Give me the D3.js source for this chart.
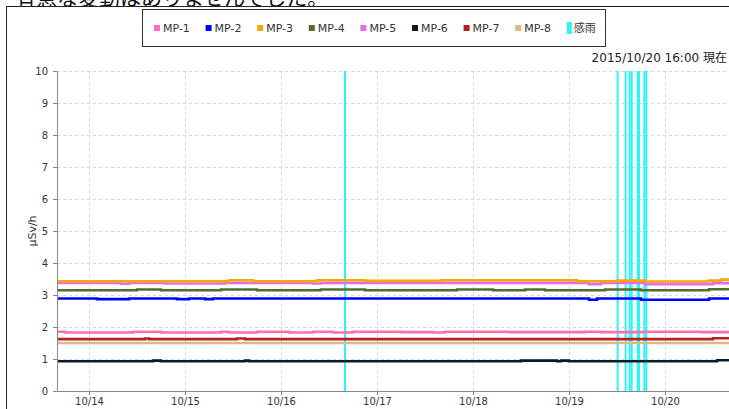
<!DOCTYPE html>
<html>
<head>
<meta charset="utf-8">
<script src="https://cdn.jsdelivr.net/npm/d3@7"></script>
<style>
  body { margin: 0; background: #fff; }
  svg { display: block; }
</style>
</head>
<body>
<div id="chart"></div>
<script>
// series as change points [time, value] (step data, uSv/h)
const mp1 = [["10/13 16:00",1.85],["10/13 18:00",1.83],["10/14 11:00",1.85],["10/14 18:00",1.83],["10/15 09:00",1.85],["10/15 11:00",1.83],["10/15 18:00",1.85],["10/16 02:00",1.83],["10/16 08:00",1.85],["10/16 13:00",1.83],["10/16 18:00",1.85],["10/17 06:00",1.84],["10/17 14:00",1.83],["10/17 17:00",1.85],["10/18 09:00",1.84],["10/19 04:00",1.85],["10/19 08:00",1.84],["10/19 19:00",1.85],["10/20 09:00",1.84],["10/20 16:00",1.84]];
const mp2 = [["10/13 16:00",2.89],["10/14 02:00",2.87],["10/14 10:00",2.89],["10/14 22:00",2.87],["10/15 01:00",2.89],["10/15 05:00",2.87],["10/15 07:00",2.89],["10/19 05:00",2.85],["10/19 07:00",2.89],["10/19 18:00",2.85],["10/20 11:00",2.89],["10/20 16:00",2.89]];
const mp3 = [["10/13 16:00",3.43],["10/15 11:00",3.46],["10/15 17:00",3.43],["10/16 09:00",3.46],["10/16 21:00",3.44],["10/17 16:00",3.46],["10/19 02:00",3.43],["10/19 12:00",3.45],["10/19 19:00",3.42],["10/20 11:00",3.45],["10/20 14:00",3.48],["10/20 16:00",3.48]];
const mp4 = [["10/13 16:00",3.15],["10/14 12:00",3.17],["10/14 18:00",3.15],["10/15 09:00",3.17],["10/15 18:00",3.15],["10/16 10:00",3.17],["10/16 21:00",3.15],["10/17 20:00",3.17],["10/18 05:00",3.15],["10/18 13:00",3.17],["10/18 18:00",3.15],["10/19 09:00",3.17],["10/19 18:00",3.15],["10/20 11:00",3.18],["10/20 16:00",3.18]];
const mp5 = [["10/13 16:00",3.38],["10/14 08:00",3.35],["10/14 10:00",3.38],["10/14 19:00",3.36],["10/15 10:00",3.38],["10/16 08:00",3.36],["10/16 10:00",3.38],["10/19 05:00",3.34],["10/19 08:00",3.38],["10/19 19:00",3.34],["10/20 12:00",3.37],["10/20 16:00",3.37]];
const mp6 = [["10/13 16:00",0.93],["10/14 16:00",0.95],["10/14 18:00",0.93],["10/15 15:00",0.95],["10/15 16:00",0.93],["10/18 12:00",0.95],["10/18 21:00",0.93],["10/18 22:00",0.95],["10/19 00:00",0.93],["10/20 13:00",0.96],["10/20 16:00",0.96]];
const mp7 = [["10/13 16:00",1.62],["10/14 14:00",1.64],["10/14 15:00",1.62],["10/15 13:00",1.64],["10/15 15:00",1.62],["10/20 12:00",1.65],["10/20 16:00",1.65]];
const mp8 = [["10/13 16:00",1.50],["10/20 16:00",1.50]];
const rainTimes = ["10/16 16:00","10/19 12:10","10/19 14:10","10/19 15:10","10/19 15:40","10/19 17:10","10/19 17:30","10/19 18:50","10/19 19:20"];

const seriesNames = ["MP-1","MP-2","MP-3","MP-4","MP-5","MP-6","MP-7","MP-8"];
const seriesData = [mp1, mp2, mp3, mp4, mp5, mp6, mp7, mp8];
const colors = ["#ff6eb4","#0000ff","#ffa500","#556b2f","#e36bf0","#0b1a2a","#b22222","#deb887"];
const rainColor = "#2ef5f5";
const xTicks = ["10/14","10/15","10/16","10/17","10/18","10/19","10/20"];
const yTicks = [0,1,2,3,4,5,6,7,8,9,10];

const parse = d3.timeParse("%Y/%m/%d %H:%M");
const t = s => parse("2015/" + s);

const width = 729, height = 409;
const margin = { top: 71, right: 0, bottom: 18, left: 57 };

const svg = d3.select("#chart").append("svg")
    .attr("width", width)
    .attr("height", height);

// headline text above the chart (only its lower part shows in the crop)
svg.append("text")
    .attr("x", 15).attr("y", 5)
    .attr("font-family", "Noto Sans CJK JP")
    .attr("font-size", 21)
    .attr("fill", "#111")
    .text("有意な変動はありませんでした。");

// outer frame
svg.append("rect")
    .attr("x", 6.5).attr("y", 6.5)
    .attr("width", 740).attr("height", 420)
    .attr("fill", "white")
    .attr("stroke", "#222");

const x = d3.scaleTime()
    .domain([t("10/13 16:00"), t("10/20 16:00")])
    .range([margin.left, width - margin.right]);
const y = d3.scaleLinear()
    .domain([0, 10])
    .range([height - margin.bottom, margin.top]);

// grid
svg.append("g").selectAll("line")
    .data(yTicks.slice(1))
    .join("line")
    .attr("x1", margin.left).attr("x2", width)
    .attr("y1", d => Math.round(y(d)) + 0.5).attr("y2", d => Math.round(y(d)) + 0.5)
    .attr("stroke", "#d8d8d8").attr("stroke-dasharray", "3,3");
svg.append("g").selectAll("line")
    .data(xTicks)
    .join("line")
    .attr("x1", d => Math.round(x(t(d + " 00:00"))) + 0.5)
    .attr("x2", d => Math.round(x(t(d + " 00:00"))) + 0.5)
    .attr("y1", y(0)).attr("y2", y(10))
    .attr("stroke", "#d8d8d8").attr("stroke-dasharray", "3,3");

// rain detection lines
svg.append("g").selectAll("line")
    .data(rainTimes)
    .join("line")
    .attr("x1", d => x(t(d))).attr("x2", d => x(t(d)))
    .attr("y1", y(0)).attr("y2", y(10))
    .attr("stroke", rainColor)
    .attr("stroke-width", 2);

// series lines
const line = d3.line()
    .x(d => x(t(d[0])))
    .y(d => y(d[1]))
    .curve(d3.curveStepAfter);

for (let i = seriesData.length - 1; i >= 0; i--) {
    svg.append("path")
        .datum(seriesData[i])
        .attr("d", line)
        .attr("fill", "none")
        .attr("stroke", colors[i])
        .attr("stroke-width", 2.6);
}

// axes
const yAxis = svg.append("g")
    .attr("transform", "translate(" + margin.left + ",0)")
    .call(d3.axisLeft(y).tickValues(yTicks).tickSize(4).tickSizeOuter(0).tickFormat(d3.format("d")));
const xAxis = svg.append("g")
    .attr("transform", "translate(0," + y(0) + ")")
    .call(d3.axisBottom(x)
        .tickValues(xTicks.map(d => t(d + " 00:00")))
        .tickSize(4).tickSizeOuter(0)
        .tickFormat(d3.timeFormat("%m/%d")));
xAxis.selectAll("text").text((d, i) => xTicks[i]);
[yAxis, xAxis].forEach(a => {
    a.select(".domain").attr("stroke", "#888");
    a.selectAll(".tick line").attr("stroke", "#888");
    a.selectAll("text")
        .attr("fill", "#333")
        .attr("font-family", "DejaVu Sans")
        .attr("font-size", 10);
});
yAxis.selectAll("text").attr("dx", "-2");

// y axis title
svg.append("text")
    .attr("transform", "translate(36," + y(5) + ") rotate(-90)")
    .attr("text-anchor", "middle")
    .attr("font-family", "DejaVu Sans")
    .attr("font-size", 11)
    .attr("fill", "#333")
    .text("µSv/h");

// timestamp
svg.append("text")
    .attr("x", 727).attr("y", 62)
    .attr("text-anchor", "end")
    .attr("font-family", "DejaVu Sans, Noto Sans CJK JP")
    .attr("font-size", 12)
    .attr("fill", "#222")
    .text("2015/10/20 16:00 現在");

// legend
const legend = svg.append("g");
legend.append("rect")
    .attr("x", 142.5).attr("y", 9.5)
    .attr("width", 463).attr("height", 37)
    .attr("fill", "white")
    .attr("stroke", "#333");
const legendItems = seriesNames.concat(["感雨"]);
const legendColors = colors.concat([rainColor]);
const item = legend.selectAll("g.item")
    .data(legendItems)
    .join("g")
    .attr("class", "item")
    .attr("transform", (d, i) => "translate(" + (154 + i * 51.6) + ",28)");
item.append("rect")
    .attr("x", 0)
    .attr("y", (d, i) => i === 8 ? -6 : -3)
    .attr("width", (d, i) => i === 8 ? 5 : 6)
    .attr("height", (d, i) => i === 8 ? 12 : 6)
    .attr("fill", (d, i) => legendColors[i]);
item.append("text")
    .attr("x", (d, i) => i === 8 ? 7 : 9)
    .attr("y", 4)
    .attr("font-family", "DejaVu Sans, Noto Sans CJK JP")
    .attr("font-size", 11)
    .attr("fill", "#333")
    .text(d => d);
</script>
</body>
</html>
